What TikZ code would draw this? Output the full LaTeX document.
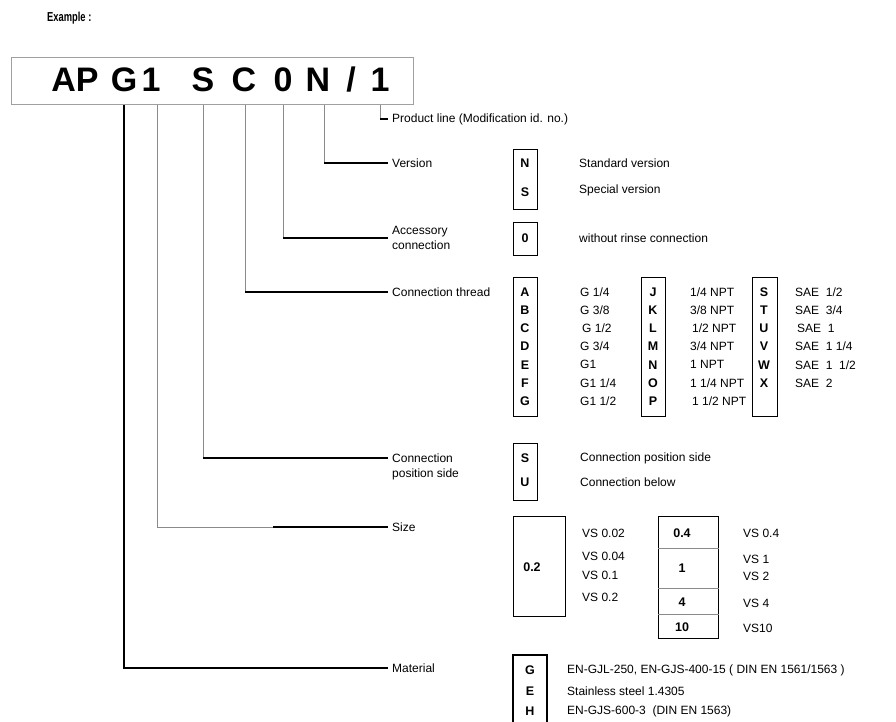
\documentclass[tikz,border=0pt]{standalone}
\usepackage{fontspec}
\setmainfont{Liberation Sans}
\usetikzlibrary{positioning,calc}
\definecolor{LeadGray}{HTML}{8A8A8A}
\definecolor{FrameGray}{HTML}{A0A0A0}

\begin{document}
\begin{tikzpicture}[
    x=1pt, y=-1pt,
    lbl/.style={anchor=west, inner sep=4pt, align=left, font=\fontsize{12}{15}\selectfont},
    val/.style={anchor=west, inner sep=0pt, font=\fontsize{12}{15}\selectfont},
    key/.style={inner sep=0pt, font=\fontsize{12.5}{14}\selectfont\bfseries},
    codechar/.style={anchor=base, inner sep=0pt, font=\fontsize{34}{38}\selectfont\bfseries},
    codebox/.style={draw=FrameGray, line width=1pt, anchor=north west},
    keybox/.style={draw, line width=1.4pt, anchor=north west},
    lead/.style={draw, line width=1.4pt},
    thinlead/.style={draw=LeadGray, line width=0.8pt}
  ]
    \useasboundingbox (0,0) rectangle (896,722);
    \node[anchor=west, inner sep=0pt, font=\fontsize{13}{15}\selectfont\bfseries] (example) at (47,18) {\scalebox{0.72}[1]{Example :}};

    % type code
    \node[codebox, minimum width=402, minimum height=47] (code) at (11,57) {};
    \foreach \nm/\x/\t in {cAP/75/AP, cG/124/G, cOne/151/1, cS/203/S, cC/244/C, cZero/283/0, cN/318/N, cSl/351/\slash, cLast/380/1}
      \node[codechar] (\nm) at (\x,92) {\t};
    \coordinate (tapG) at (cG |- code.south);
    \coordinate (tapOne) at ($(cOne |- code.south)+(6,0)$);
    \coordinate (tapS) at (cS |- code.south);
    \coordinate (tapC) at ($(cC |- code.south)+(1,0)$);
    \coordinate (tapZero) at (cZero |- code.south);
    \coordinate (tapN) at ($(cN |- code.south)+(6,0)$);
    \coordinate (tapLast) at (cLast |- code.south);

    % labels
    \node[lbl] (lprod) at (388,119) {Product line (Modification id. no.)};
    \node[lbl] (lver) at (388,163) {Version};
    \node[lbl] (lacc) at (388,238) {Accessory\\connection};
    \node[lbl] (lthr) at (388,292) {Connection thread};
    \node[lbl] (lpos) at (388,458) {Connection};
    \node[lbl] (lpos2) at (388,474) {position side};
    \node[lbl] (lsize) at (388,527) {Size};
    \node[lbl] (lmat) at (388,668) {Material};

    % leads
    \draw[thinlead] (tapLast) -- (tapLast |- lprod.west);
    \draw[lead] (tapLast |- lprod.west) -- (lprod.west);
    \draw[thinlead] (tapN) -- (tapN |- lver.west);
    \draw[lead] (tapN |- lver.west) -- (lver.west);
    \draw[thinlead] (tapZero) -- (tapZero |- lacc.west);
    \draw[lead] (tapZero |- lacc.west) -- (lacc.west);
    \draw[thinlead] (tapC) -- (tapC |- lthr.west);
    \draw[lead] (tapC |- lthr.west) -- (lthr.west);
    \draw[thinlead] (tapS) -- (tapS |- lpos.west);
    \draw[lead] (tapS |- lpos.west) -- (lpos.west);
    \draw[thinlead] (tapOne) |- (273,527) coordinate (kneeSize);
    \draw[lead] (kneeSize) -- (lsize.west);
    \draw[lead] (tapG) |- (lmat.west);

    % version
    \node[keybox, minimum width=24, minimum height=60] (bver) at (513,149) {};
    \node[key] (kN) at (525,163) {N};
    \node[key] (kS) at (525,192) {S};
    \node[val] (vN) at (579,163) {Standard version};
    \node[val] (vS) at (579,190) {Special version};

    % accessory
    \node[keybox, minimum width=24, minimum height=33] (bacc) at (513,222) {};
    \node[key] (kZero) at (525,238) {0};
    \node[val] (vZero) at (579,238) {without rinse connection};

    % connection thread
    \node[keybox, minimum width=24, minimum height=139] (bthrA) at (513,277) {};
    \node[keybox, minimum width=24, minimum height=139] (bthrJ) at (641,277) {};
    \node[keybox, minimum width=25, minimum height=139] (bthrS) at (752,277) {};
    \foreach \k/\dx/\v [count=\i from 0] in {A/0/{G 1/4}, B/0/{G 3/8}, C/2/{G 1/2}, D/0/{G 3/4}, E/0/{G1}, F/0/{G1 1/4}, G/0/{G1 1/2}} {
      \node[key] (kt\k) at (525,292+18.2*\i) {\k};
      \node[val] (vt\k) at (580+\dx,292+18.2*\i) {\v};
    }
    \foreach \k/\dx/\v [count=\i from 0] in {J/0/{1/4 NPT}, K/0/{3/8 NPT}, L/2/{1/2 NPT}, M/0/{3/4 NPT}, N/0/{1 NPT}, O/0/{1 1/4 NPT}, P/2/{1 1/2 NPT}} {
      \node[key] (kt\k) at (653,292+18.2*\i) {\k};
      \node[val] (vt\k) at (690+\dx,292+18.2*\i) {\v};
    }
    \foreach \k/\dx/\v [count=\i from 0] in {S/0/{SAE~~1/2}, T/0/{SAE~~3/4}, U/2/{SAE~~1}, V/0/{SAE~~1 1/4}, W/0/{SAE~~1~~1/2}, X/0/{SAE~~2}} {
      \node[key] (kt\k) at (764,292+18.2*\i) {\k};
      \node[val] (vt\k) at (795+\dx,292+18.2*\i) {\v};
    }

    % connection position
    \node[keybox, minimum width=24, minimum height=57] (bpos) at (513,443) {};
    \node[key] (kpS) at (525,458) {S};
    \node[key] (kpU) at (525,482) {U};
    \node[val] (vpS) at (580,458) {Connection position side};
    \node[val] (vpU) at (580,482) {Connection below};

    % size
    \node[keybox, minimum width=52, minimum height=100] (bsz1) at (513,516) {};
    \node[key] (kz02) at (532,567) {0.2};
    \foreach \v/\y in {0.02/533, 0.04/556, 0.1/575, 0.2/597}
      \node[val] (vz\v) at (582,\y) {VS \v};
    \node[keybox, minimum width=60, minimum height=122] (bsz2) at (658,516) {};
    \foreach \y in {548, 588, 614}
      \draw[thinlead] (bsz2.west |- 0,\y) -- (bsz2.east |- 0,\y);
    \foreach \nm/\k/\y in {kz04/0.4/533, kz1/1/568, kz4/4/602, kz10/10/627}
      \node[key] (\nm) at (682,\y) {\k};
    \foreach \nm/\v/\y in {vz04/{VS 0.4}/533, vz1/{VS 1}/559, vz2/{VS 2}/576, vz4/{VS 4}/603, vz10/{VS10}/628}
      \node[val] (\nm) at (743,\y) {\v};

    % material
    \draw[line width=1.4pt] (513,730) -- (513,655) -- (547,655) -- (547,730);
    \node[key] (kmG) at (530,670) {G};
    \node[key] (kmE) at (530,691) {E};
    \node[key] (kmH) at (530,711) {H};
    \node[val] (vmG) at (567,670) {EN-GJL-250, EN-GJS-400-15 ( DIN EN 1561/1563 )};
    \node[val] (vmE) at (567,691) {Stainless steel 1.4305};
    \node[val] (vmH) at (567,711) {EN-GJS-600-3~~(DIN EN 1563)};
\end{tikzpicture}
\end{document}
